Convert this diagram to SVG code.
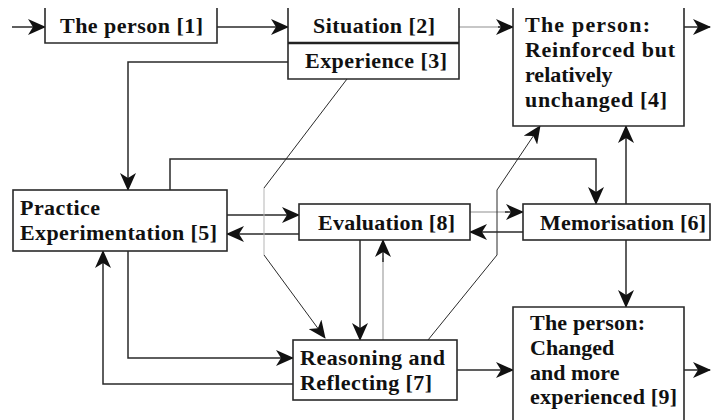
<svg xmlns="http://www.w3.org/2000/svg" width="711" height="420" viewBox="0 0 711 420">
<style>
.box{fill:#fff;stroke:#2a2a2a;stroke-width:1.6}
.t{font-family:"Liberation Serif","Times New Roman",serif;font-weight:bold;font-size:22px;fill:#111}
.c{fill:none;stroke:#2a2a2a;stroke-width:1.5}
.lt{stroke:#b5b5b5}
.th{stroke-width:1}
</style>
<defs>
<marker id="ah" markerUnits="userSpaceOnUse" markerWidth="18" markerHeight="16" viewBox="0 0 18 16" refX="17" refY="8" orient="auto">
<path d="M0,0 L18,8 L0,16 L5,8 Z" fill="#111"/>
</marker>
</defs>
<rect width="711" height="420" fill="#fff"/>
<g id="connectors">
<path class="c" d="M12,27 H45" marker-end="url(#ah)"/>
<path class="c" d="M217,27 H288" marker-end="url(#ah)"/>
<path class="c lt" d="M459,27 H500"/>
<path class="c" d="M498,27 H513" marker-end="url(#ah)"/>
<path class="c" d="M684,27 H710" marker-end="url(#ah)"/>
<path class="c" d="M288,62 H128 V190" marker-end="url(#ah)"/>
<path class="c" d="M170,190 V159 H596 V204" marker-end="url(#ah)"/>
<path class="c" d="M626,204 V126" marker-end="url(#ah)"/>
<path class="c" d="M626,240 V307" marker-end="url(#ah)"/>
<path class="c" d="M227,215 H299" marker-end="url(#ah)"/>
<path class="c" d="M299,234 H227" marker-end="url(#ah)"/>
<path class="c lt" d="M470,212 H508"/>
<path class="c" d="M505,212 H523" marker-end="url(#ah)"/>
<path class="c" d="M523,232 H470" marker-end="url(#ah)"/>
<path class="c" d="M128,251 V358 H293" marker-end="url(#ah)"/>
<path class="c" d="M293,384 H103 V251" marker-end="url(#ah)"/>
<path class="c" d="M360,240 V340" marker-end="url(#ah)"/>
<path class="c lt" d="M383,340 V258"/>
<path class="c" d="M383,262 V240" marker-end="url(#ah)"/>
<path class="c" d="M457,370 H513" marker-end="url(#ah)"/>
<path class="c" d="M684,370 H710" marker-end="url(#ah)"/>
<path class="c th" d="M347,79 L264,188"/>
<path class="c th lt" d="M264,188 V255"/>
<path class="c th" d="M264,255 L325,338" marker-end="url(#ah)"/>
<path class="c th" d="M428,340 L497,255 V190 L540,126" marker-end="url(#ah)"/>
</g>
<g id="n1">
<rect x="45" y="8" width="172" height="35" fill="#fff"/>
<path class="box" fill="none" d="M45,8 V43 H217 V8"/>
<text class="t" x="60" y="33" textLength="143" lengthAdjust="spacing">The person [1]</text>
</g>
<g id="n2">
<rect x="288" y="8" width="171" height="35" fill="#fff"/>
<path class="box" fill="none" d="M288,8 V43 M459,43 V8"/>
<text class="t" x="313" y="33" textLength="122" lengthAdjust="spacing">Situation [2]</text>
</g>
<g id="n3">
<rect x="288" y="43" width="171" height="36" fill="#fff"/>
<path class="box" fill="none" d="M288,43 V79 H459 V43"/>
<path d="M288,43 H459" stroke="#222" stroke-width="2.5"/>
<text class="t" x="305" y="68" textLength="142" lengthAdjust="spacing">Experience [3]</text>
</g>
<g id="n4">
<rect x="513" y="8" width="171" height="118" fill="#fff"/>
<path class="box" fill="none" d="M513,8 V126 H684 V8"/>
<text class="t" x="525" y="32" textLength="125" lengthAdjust="spacing">The person:</text>
<text class="t" x="525" y="57" textLength="150" lengthAdjust="spacing">Reinforced but</text>
<text class="t" x="525" y="82">relatively</text>
<text class="t" x="525" y="107" textLength="142" lengthAdjust="spacing">unchanged [4]</text>
</g>
<g id="n5">
<rect class="box" x="13" y="190" width="214" height="61"/>
<text class="t" x="20" y="215" textLength="80" lengthAdjust="spacing">Practice</text>
<text class="t" x="20" y="240" textLength="197" lengthAdjust="spacing">Experimentation [5]</text>
</g>
<g id="n8">
<rect class="box" x="299" y="204" width="171" height="36"/>
<text class="t" x="318" y="230" textLength="137" lengthAdjust="spacing">Evaluation [8]</text>
</g>
<g id="n6">
<rect class="box" x="523" y="204" width="187" height="36"/>
<text class="t" x="540" y="230" textLength="166" lengthAdjust="spacing">Memorisation [6]</text>
</g>
<g id="n7">
<rect class="box" x="293" y="340" width="164" height="60"/>
<text class="t" x="300" y="365" textLength="145" lengthAdjust="spacing">Reasoning and</text>
<text class="t" x="300" y="390" textLength="132" lengthAdjust="spacing">Reflecting [7]</text>
</g>
<g id="n9">
<path class="box" d="M513,425 V307 H684 V425"/>
<text class="t" x="530" y="330" textLength="115" lengthAdjust="spacing">The person:</text>
<text class="t" x="530" y="355">Changed</text>
<text class="t" x="530" y="380">and more</text>
<text class="t" x="530" y="404" textLength="147" lengthAdjust="spacing">experienced [9]</text>
</g>
</svg>
